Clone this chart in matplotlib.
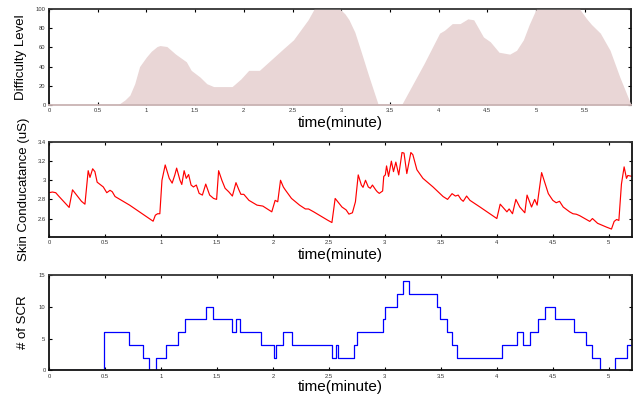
import numpy as np
import matplotlib
matplotlib.use('Agg')
import matplotlib.pyplot as plt

plt.rcParams['font.family'] = ['Liberation Sans', 'DejaVu Sans']

# difficulty level (top)
t_diff = [0, 0.71, 0.78, 0.83, 0.88, 0.93, 1.00, 1.05, 1.11, 1.14, 1.21, 1.30, 1.41, 1.46,
          1.55, 1.62, 1.69, 1.88, 1.97, 2.05, 2.16, 2.41, 2.51, 2.66, 2.72, 2.99, 3.04, 3.08,
          3.14, 3.20, 3.28, 3.38, 3.62, 3.85, 4.01, 4.06, 4.14, 4.22, 4.30, 4.36, 4.46, 4.53,
          4.62, 4.73, 4.80, 4.87, 4.93, 5.00, 5.45, 5.52, 5.57, 5.66, 5.76, 5.86, 5.975]
difficulty = [0, 0, 5, 10, 22, 40, 50, 56, 61, 62, 61, 53, 45, 36,
              29, 22, 19, 19, 27, 36, 36, 59, 68, 89, 100, 100, 95, 89,
              76, 57, 31, 0, 0, 43, 75, 78, 85, 85, 90, 89, 71, 66,
              55, 53, 57, 68, 84, 100, 100, 90, 84, 75, 57, 29, 0]

# skin conductance (middle)
t_scl = [0, 0.03, 0.06, 0.09, 0.18, 0.21, 0.25, 0.29, 0.321, 0.35, 0.366, 0.39, 0.41, 0.43,
         0.485, 0.516, 0.545, 0.565, 0.59, 0.72, 0.93, 0.95, 0.97, 0.99, 1.009, 1.038, 1.074,
         1.10, 1.124, 1.14, 1.17, 1.186, 1.207, 1.226, 1.247, 1.269, 1.29, 1.316, 1.341, 1.37,
         1.40, 1.435, 1.47, 1.497, 1.515, 1.544, 1.573, 1.605, 1.638, 1.67, 1.696, 1.714, 1.74,
         1.786, 1.858, 1.91, 1.99, 2.02, 2.043, 2.068, 2.093, 2.11, 2.166, 2.238, 2.29, 2.318,
         2.364, 2.49, 2.527, 2.556, 2.58, 2.617, 2.654, 2.679, 2.71, 2.737, 2.762, 2.79, 2.805,
         2.827, 2.852, 2.87, 2.889, 2.918, 2.932, 2.95, 2.98, 2.99, 3.004, 3.015, 3.033, 3.058,
         3.077, 3.098, 3.124, 3.153, 3.171, 3.196, 3.232, 3.25, 3.286, 3.34, 3.43, 3.52, 3.56,
         3.60, 3.63, 3.655, 3.68, 3.70, 3.73, 3.76, 3.85, 3.95, 4.0, 4.03, 4.06, 4.09, 4.11,
         4.14, 4.17, 4.205, 4.25, 4.27, 4.31, 4.338, 4.36, 4.40, 4.43, 4.46, 4.50, 4.53, 4.56,
         4.593, 4.65, 4.68, 4.71, 4.74, 4.80, 4.83, 4.854, 4.9, 4.98, 5.024, 5.048, 5.07, 5.09,
         5.113, 5.137, 5.158, 5.17, 5.21]
scl = [2.87, 2.877, 2.87, 2.83, 2.716, 2.90, 2.84, 2.78, 2.75, 3.10, 3.03, 3.12, 3.09, 2.98,
       2.93, 2.87, 2.895, 2.88, 2.83, 2.74, 2.572, 2.635, 2.65, 2.65, 3.0, 3.16, 3.02,
       2.97, 3.056, 3.127, 3.0, 2.956, 3.10, 3.02, 3.06, 2.95, 2.93, 2.95, 2.863, 2.845,
       2.96, 2.845, 2.81, 2.80, 3.10, 3.0, 2.916, 2.88, 2.835, 2.975, 2.90, 2.853, 2.853,
       2.79, 2.74, 2.73, 2.67, 2.79, 2.775, 3.0, 2.93, 2.90, 2.81, 2.74, 2.70, 2.70,
       2.67, 2.582, 2.558, 2.81, 2.775, 2.72, 2.69, 2.646, 2.66, 2.775, 3.056, 2.95, 2.926,
       3.0, 2.93, 2.916, 2.95, 2.90, 2.88, 2.863, 2.888, 3.04, 3.056, 3.15, 3.04, 3.20,
       3.09, 3.19, 3.056, 3.29, 3.284, 3.07, 3.29, 3.267, 3.11, 3.02, 2.93, 2.83, 2.80,
       2.86, 2.835, 2.845, 2.80, 2.78, 2.835, 2.79, 2.72, 2.64, 2.60, 2.75, 2.71, 2.67, 2.70,
       2.65, 2.80, 2.72, 2.66, 2.845, 2.72, 2.80, 2.74, 3.08, 2.97, 2.86, 2.79, 2.765, 2.78,
       2.72, 2.67, 2.65, 2.645, 2.63, 2.59, 2.57, 2.60, 2.55, 2.51, 2.49, 2.57, 2.59, 2.58,
       2.96, 3.14, 3.02, 3.05, 3.04]

# number of SCR (bottom), step changes
t_scr = [0, 0.495, 0.712, 0.839, 0.889, 0.955, 1.045, 1.153, 1.219, 1.406, 1.461, 1.634,
         1.671, 1.703, 1.895, 2.014, 2.032, 2.086, 2.173, 2.528, 2.563, 2.585, 2.727, 2.755,
         2.98, 3.0, 3.106, 3.16, 3.214, 3.468, 3.496, 3.558, 3.601, 3.648, 4.046, 4.183,
         4.234, 4.292, 4.364, 4.426, 4.52, 4.69, 4.8, 4.854, 4.92, 5.054, 5.164, 5.21]
n_scr = [0, 6, 4, 2, 0, 2, 4, 6, 8, 10, 8, 6,
         8, 6, 4, 2, 4, 6, 4, 2, 4, 2, 4, 6,
         8, 10, 12, 14, 12, 10, 8, 6, 4, 2, 4, 6,
         4, 6, 8, 10, 8, 6, 4, 2, 0, 2, 4, 4]

xt1 = [0, 0.5, 1, 1.5, 2, 2.5, 3, 3.5, 4, 4.5, 5, 5.5]
xt2 = xt1[:-1]
xlab = ['0', '0.5', '1', '1.5', '2', '2.5', '3', '3.5', '4', '4.5', '5', '5.5']

W, H = 635, 394
fig = plt.figure(figsize=(W / 100, H / 100), dpi=100)
ax1 = fig.add_axes([49 / W, 1 - 104.7 / H, 582 / W, 95.4 / H])
ax2 = fig.add_axes([49 / W, 1 - 236.7 / H, 583.3 / W, 94.7 / H])
ax3 = fig.add_axes([49 / W, 1 - 370.3 / H, 583.3 / W, 95.3 / H])


def style(ax):
    for s in ax.spines.values():
        s.set_linewidth(1.3)
        s.set_color('#111111')
    ax.spines['top'].set_color('#333333')
    ax.tick_params(direction='in', top=True, right=True, length=2.2, width=0.8,
                   labelsize=4.2, labelcolor='#333333', pad=2.5)
    ax.xaxis.label.set_va('center')
    ax.yaxis.label.set_va('center')


ax1.fill_between(t_diff, difficulty, 0, color='#e9d6d6', lw=0, zorder=3)
ax1.set_xlim(0, 5.975)
ax1.set_ylim(0, 100)
ax1.set_yticks([0, 20, 40, 60, 80, 100])
ax1.set_xticks(xt1)
ax1.set_xticklabels(xlab)
ax1.set_xlabel('time(minute)', fontsize=11)
ax1.set_ylabel('Difficulty Level', fontsize=9.5)
style(ax1)
ax1.spines['bottom'].set_color('#c9b3b3')
ax1.spines['bottom'].set_zorder(4)
ax1.xaxis.set_label_coords(0.5, -0.19)
ax1.yaxis.set_label_coords(-28 / 582, 0.5)

ax2.plot(t_scl, scl, color='#ff0000', lw=0.85)
ax2.set_xlim(0, 5.21)
ax2.set_ylim(2.41, 3.4)
ax2.set_yticks([2.6, 2.8, 3.0, 3.2, 3.4])
ax2.set_yticklabels(['2.6', '2.8', '3', '3.2', '3.4'])
ax2.set_xticks(xt2)
ax2.set_xticklabels(xlab[:-1])
ax2.set_xlabel('time(minute)', fontsize=11)
ax2.set_ylabel('Skin Conducatance (uS)', fontsize=9.5)
style(ax2)
ax2.xaxis.set_label_coords(0.5, -0.19)
ax2.yaxis.set_label_coords(-25 / 583, 0.5)

ax3.step(t_scr, n_scr, where='post', color='#0000ff', lw=0.9)
ax3.set_xlim(0, 5.21)
ax3.set_ylim(0, 15)
ax3.set_yticks([0, 5, 10, 15])
ax3.set_xticks(xt2)
ax3.set_xticklabels(xlab[:-1])
ax3.set_xlabel('time(minute)', fontsize=11)
ax3.set_ylabel('# of SCR', fontsize=9.5)
style(ax3)
ax3.xaxis.set_label_coords(0.5, -0.175)
ax3.yaxis.set_label_coords(-26 / 583, 0.5)

fig.savefig('out.png', dpi=100)
